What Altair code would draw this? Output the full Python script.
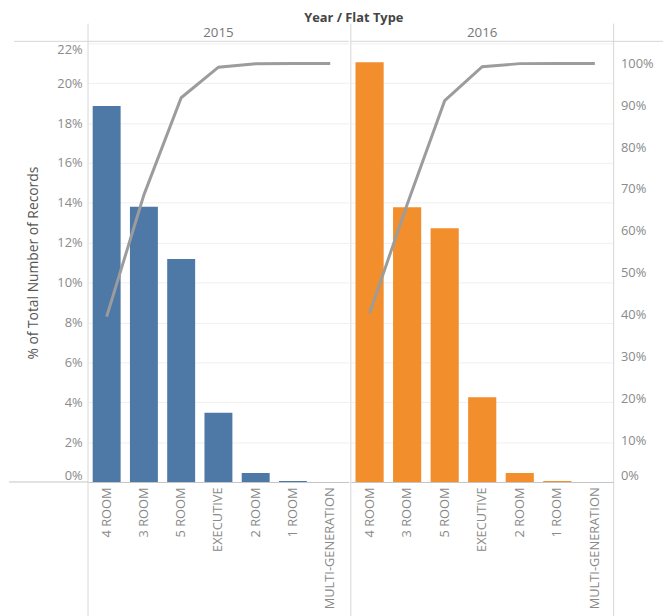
import altair as alt
import pandas as pd

flat_types = ["4 ROOM", "3 ROOM", "5 ROOM", "EXECUTIVE", "2 ROOM", "1 ROOM", "MULTI-GENERATION"]
years = ["2015", "2016"]
share_2015 = [0.1886, 0.1381, 0.1118, 0.0347, 0.0045, 0.0005, 0.0]
share_2016 = [0.2105, 0.1378, 0.1272, 0.0425, 0.0045, 0.0005, 0.0]
running_2015 = [0.395, 0.686, 0.918, 0.991, 0.999, 1.0, 1.0]
running_2016 = [0.403, 0.663, 0.911, 0.992, 0.9995, 1.0, 1.0]
year_colors = ["#4e79a7", "#f28e2b"]
left_ticks = [0, 0.02, 0.04, 0.06, 0.08, 0.10, 0.12, 0.14, 0.16, 0.18, 0.20, 0.22]
right_ticks = [0, 0.1, 0.2, 0.3, 0.4, 0.5, 0.6, 0.7, 0.8, 0.9, 1.0]

rows = []
for year, shares, running in ((years[0], share_2015, running_2015), (years[1], share_2016, running_2016)):
    for ft, s, r in zip(flat_types, shares, running):
        rows.append({"Year": year, "Flat Type": ft, "Share": s, "Running": r})
df = pd.DataFrame(rows)

H = 444
LABEL_GRAY = "#8a8a8a"
LINE_GRAY = "#d6d6d6"


def panel(year, color, width, side):
    base = alt.Chart(df).transform_filter(alt.datum.Year == year)
    x = alt.X(
        "Flat Type:N",
        sort=flat_types,
        scale=alt.Scale(domain=flat_types, paddingInner=0.25, paddingOuter=0.125),
        axis=alt.Axis(
            title=None, labelAngle=270, labelColor=LABEL_GRAY, labelFontSize=13,
            labelPadding=5, labelLimit=200, ticks=False, domain=True,
            domainColor="#c4c4c4", grid=False,
        ),
    )
    if side == "left":
        bar_axis = alt.Axis(
            title="% of Total Number of Records", format=".0%", values=left_ticks,
            labelFlush=True, labelColor=LABEL_GRAY, labelFontSize=13, labelPadding=6,
            ticks=False, domain=False, grid=True, gridColor="#efefef",
            titleColor="#555555", titleFontSize=14, titleFontWeight="normal", titlePadding=17,
        )
    else:
        bar_axis = alt.Axis(
            title=None, labels=False, ticks=False, domain=False, values=left_ticks,
            grid=True, gridColor="#efefef",
        )
    bars = base.mark_bar(color=color).encode(
        x=x, y=alt.Y("Share:Q", scale=alt.Scale(domain=[0, 0.22], nice=False), axis=bar_axis)
    )
    if side == "right":
        line_axis = alt.Axis(
            orient="right", format=".0%", values=right_ticks, labelFlush=True,
            labelColor=LABEL_GRAY, labelFontSize=13, labelPadding=7, ticks=False,
            domain=False, grid=False, title=None,
        )
    else:
        line_axis = None
    line = base.mark_line(color="#9c9c9c", strokeWidth=3).encode(
        x=x, y=alt.Y("Running:Q", scale=alt.Scale(domain=[0, 1.048], nice=False), axis=line_axis)
    )
    deco = alt.Data(values=[{}])
    rules = [
        alt.Chart(deco).mark_rule(color=LINE_GRAY, strokeWidth=1).encode(
            x=alt.value(0), y=alt.value(-20), y2=alt.value(H + 140)
        ),
        alt.Chart(deco).mark_rule(color=LINE_GRAY, strokeWidth=1).encode(
            x=alt.value(-75 if side == "left" else 0),
            x2=alt.value(width if side == "left" else width + 50),
            y=alt.value(-2),
        ),
    ]
    if side == "right":
        rules.append(
            alt.Chart(deco).mark_rule(color=LINE_GRAY, strokeWidth=1).encode(
                x=alt.value(width), y=alt.value(-20), y2=alt.value(H + 140)
            )
        )
    else:
        rules.append(
            alt.Chart(deco).mark_rule(color="#c4c4c4", strokeWidth=1).encode(
                x=alt.value(-80), x2=alt.value(0), y=alt.value(H)
            )
        )
    return alt.layer(*rules, bars, line).resolve_scale(y="independent").properties(
        width=width,
        height=H,
        title=alt.TitleParams(
            year, anchor="middle", frame="group", fontSize=13.5, color="#777777",
            fontWeight="normal", offset=-22, dy=-5,
        ),
    )


left = panel(years[0], year_colors[0], 264, "left")
right = panel(years[1], year_colors[1], 266, "right")

chart = (
    alt.hconcat(left, right, spacing=0)
    .properties(
        padding=0,
        title=alt.TitleParams(
            "Year / Flat Type", anchor="middle", fontSize=13, color="#444444",
            fontWeight="bold", offset=-8, dx=18, dy=-6,
        ),
    )
    .configure(font="Open Sans")
    .configure_view(stroke=None)
)

chart.save("out.html", embed_options={"renderer": "svg", "actions": False})
